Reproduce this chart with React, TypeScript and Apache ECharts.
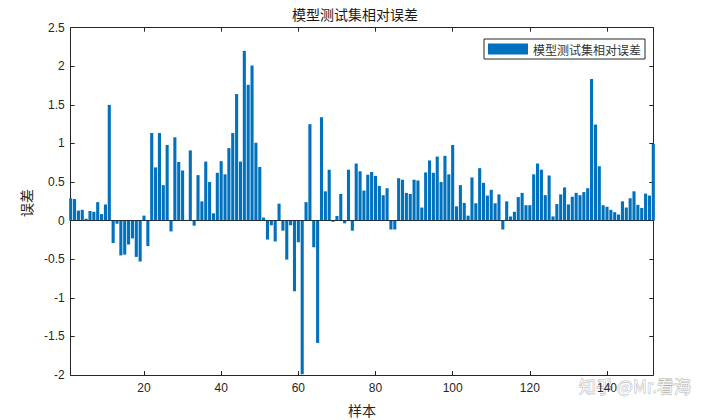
import React, { useEffect, useRef } from "react";
import * as echarts from "echarts";

const seriesName = "模型测试集相对误差";
const chartTitle = "模型测试集相对误差";
const xAxisName = "样本";
const yAxisName = "误差";
const watermark = "知乎 @Mr.看海";

const errors001to038 = [
  0.29, 0.28, 0.13, 0.14, 0.025, 0.125, 0.115, 0.24, 0.085, 0.21,
  1.5, -0.29, -0.04, -0.45, -0.44, -0.31, -0.23, -0.47, -0.53, 0.065,
  -0.33, 1.135, 0.69, 1.135, 0.46, 0.98, -0.14, 1.08, 0.76, 0.65,
  0.01, 0.91, -0.065, 0.59, 0.25, 0.765, 0.5, 0.095,
];
const errors039to076 = [
  0.62, 0.77, 0.6, 0.94, 1.135, 1.64, 0.765, 2.2, 1.76, 2.01,
  1.01, 0.695, 0.04, -0.245, -0.06, -0.27, 0.22, -0.13, -0.505, -0.06,
  -0.915, -0.28, -1.99, 0.24, 1.25, -0.345, -1.585, 1.34, 0.38, 0.66,
  -0.015, 0.06, 0.345, -0.035, 0.66, -0.13, 0.74, 0.64,
];
const errors077to114 = [
  0.39, 0.595, 0.63, 0.58, 0.45, 0.33, 0.42, -0.115, -0.115, 0.55,
  0.53, 0.36, 0.345, 0.53, 0.52, 0.17, 0.625, 0.78, 0.62, 0.83,
  0.5, 0.84, 0.6, 0.98, 0.185, 0.46, 0.23, 0.065, 0.56, 0.225,
  0.68, 0.49, 0.325, 0.4, 0.225, 0.34, -0.115, 0.25,
];
const errors115to152 = [
  0.055, 0.115, 0.305, 0.36, 0.2, 0.2, 0.6, 0.74, 0.66, 0.33,
  0.585, 0.055, 0.215, 0.34, 0.43, 0.21, 0.31, 0.36, 0.33, 0.37,
  0.42, 1.835, 1.245, 0.705, 0.2, 0.18, 0.14, 0.11, 0.08, 0.25,
  0.17, 0.29, 0.38, 0.205, 0.165, 0.35, 0.325, 0.995,
];

const relativeErrors = [
  ...errors001to038,
  ...errors039to076,
  ...errors077to114,
  ...errors115to152,
];
const sampleNumbers = relativeErrors.map((_, i) => i + 1);

const xMin = 1;
const xMax = 152;
const xTickValues = [20, 40, 60, 80, 100, 120, 140];
const yMin = -2;
const yMax = 2.5;
const yStep = 0.5;

export default function App() {
  const ref = useRef<HTMLDivElement>(null);

  useEffect(() => {
    if (!ref.current) return;
    const chart = echarts.init(ref.current, null, { renderer: "svg" });
    const axisColor = "#262626";
    const numFont = "'Liberation Sans', Arial, Helvetica, sans-serif";
    const cjkFont = "'Noto Sans CJK SC', sans-serif";

    const lineStyle = { color: axisColor, width: 1 };

    chart.setOption({
      animation: false,
      backgroundColor: "#ffffff",
      grid: {
        left: 70.7,
        right: 51.7,
        top: 27.7,
        bottom: 45,
        containLabel: false,
      },
      legend: {
        data: [seriesName],
        left: 484,
        top: 39,
        orient: "horizontal",
        icon: "rect",
        itemWidth: 40,
        itemHeight: 11,
        padding: [4, 4, 4, 4],
        borderColor: axisColor,
        borderWidth: 1,
        backgroundColor: "#ffffff",
        selectedMode: false,
        textStyle: {
          fontFamily: cjkFont,
          fontSize: 12,
          color: "#333333",
        },
      },
      xAxis: [
        {
          type: "value",
          min: xMin,
          max: xMax,
          position: "bottom",
          axisLine: { show: true, onZero: false, lineStyle },
          axisTick: {
            show: true,
            inside: true,
            length: 4,
            customValues: xTickValues,
            lineStyle,
          },
          axisLabel: {
            customValues: xTickValues,
            color: axisColor,
            fontSize: 12,
            margin: 7,
            fontFamily: numFont,
          },
          splitLine: { show: false },
        },
        {
          type: "value",
          min: xMin,
          max: xMax,
          position: "top",
          axisLine: { show: true, onZero: false, lineStyle },
          axisTick: {
            show: true,
            inside: true,
            length: 4,
            customValues: xTickValues,
            lineStyle,
          },
          axisLabel: { show: false },
          splitLine: { show: false },
        },
      ],
      yAxis: [
        {
          type: "value",
          min: yMin,
          max: yMax,
          interval: yStep,
          position: "left",
          axisLine: { show: true, onZero: false, lineStyle },
          axisTick: { show: true, inside: true, length: 4, lineStyle },
          axisLabel: {
            color: axisColor,
            fontSize: 12,
            margin: 6,
            fontFamily: numFont,
          },
          splitLine: { show: false },
        },
        {
          type: "value",
          min: yMin,
          max: yMax,
          interval: yStep,
          position: "right",
          axisLine: { show: true, onZero: false, lineStyle },
          axisTick: { show: true, inside: true, length: 4, lineStyle },
          axisLabel: { show: false },
          splitLine: { show: false },
        },
      ],
      series: [
        {
          type: "bar",
          name: seriesName,
          xAxisIndex: 0,
          yAxisIndex: 0,
          data: sampleNumbers.map((x, i) => [x, relativeErrors[i]]),
          barWidth: 3.1,
          clip: true,
          itemStyle: { color: "#0072BD" },
          markLine: {
            silent: true,
            symbol: "none",
            label: { show: false },
            lineStyle: { color: "#1f2f3f", width: 1, type: "solid" },
            data: [{ yAxis: 0 }],
          },
        },
      ],
      graphic: [
        {
          type: "text",
          x: 355,
          y: 14,
          style: {
            text: chartTitle,
            fontFamily: cjkFont,
            fontSize: 14,
            fill: "#1a1a1a",
            textAlign: "center",
            textVerticalAlign: "middle",
          },
        },
        {
          type: "text",
          x: 362,
          y: 410,
          style: {
            text: xAxisName,
            fontFamily: cjkFont,
            fontSize: 14,
            fill: "#262626",
            textAlign: "center",
            textVerticalAlign: "middle",
          },
        },
        {
          type: "text",
          x: 26,
          y: 203,
          rotation: Math.PI / 2,
          style: {
            text: yAxisName,
            fontFamily: cjkFont,
            fontSize: 14,
            fill: "#262626",
            textAlign: "center",
            textVerticalAlign: "middle",
          },
        },
        {
          type: "text",
          x: 579,
          y: 385,
          silent: true,
          style: {
            text: watermark,
            fontFamily: cjkFont,
            fontSize: 17,
            fill: "rgba(250,250,250,0.9)",
            stroke: "rgba(140,140,140,0.7)",
            lineWidth: 0.8,
            textAlign: "left",
            textVerticalAlign: "middle",
          },
        },
      ],
    });

    return () => chart.dispose();
  }, []);

  return (
    <div
      ref={ref}
      style={{ position: "fixed", left: 0, top: 0, width: 705, height: 420 }}
    />
  );
}
